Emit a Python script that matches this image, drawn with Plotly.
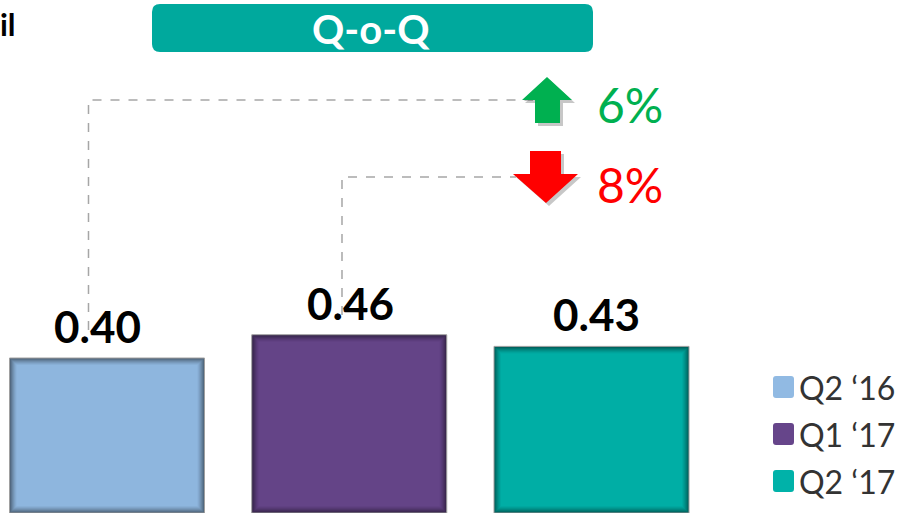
import plotly.graph_objects as go

# ---- data ----
categories = ["Q2 \u201816", "Q1 \u201817", "Q2 \u201817"]
values = [0.40, 0.46, 0.43]
value_labels = ["0.40", "0.46", "0.43"]
bar_colors = ["#91BAE3", "#66458A", "#00B2A9"]
change_labels = ["6%", "8%"]
change_colors = ["#00B050", "#FF0000"]
header_text = "Q-o-Q"
corner_text = "il"

# ---- geometry of the canvas ----
W, H = 905, 515
MB = 2
PLOT_H = H - MB
Y_MAX = 1.324
X_LO = -0.4417
X_HI = X_LO + W / 242.25
BAR_W = 0.805
PX_X = (X_HI - X_LO) / W
PX_Y = Y_MAX / PLOT_H
LABEL_NUDGE = [-10, 1, 5]   # horizontal pixel nudges of the value labels


def mix(hex_color, amount, target=(0, 0, 0)):
    h = hex_color.lstrip("#")
    r, g, b = int(h[0:2], 16), int(h[2:4], 16), int(h[4:6], 16)
    r = round(r + (target[0] - r) * amount)
    g = round(g + (target[1] - g) * amount)
    b = round(b + (target[2] - b) * amount)
    return f"rgb({r},{g},{b})"


def px(x, y):
    """pixel position -> paper coordinates string"""
    return f"{x / W:.5f},{1 - y / PLOT_H:.5f}"


def rounded_rect(x0, y0, x1, y1, r):
    return (
        f"M {px(x0 + r, y0)} L {px(x1 - r, y0)} Q {px(x1, y0)} {px(x1, y0 + r)} "
        f"L {px(x1, y1 - r)} Q {px(x1, y1)} {px(x1 - r, y1)} "
        f"L {px(x0 + r, y1)} Q {px(x0, y1)} {px(x0, y1 - r)} "
        f"L {px(x0, y0 + r)} Q {px(x0, y0)} {px(x0 + r, y0)} Z"
    )


def polygon(points):
    return "M " + " L ".join(px(x, y) for x, y in points) + " Z"


fig = go.Figure()

# bars drawn as nested layers to give a soft inner shadow at the edges
n_layers = 8
step = 1.0
for k in range(n_layers):
    inset = k * step
    amt = 0.48 * (1 - k / n_layers) ** 1.5
    fig.add_trace(go.Bar(
        x=categories,
        y=[v - 2 * inset * PX_Y for v in values],
        base=[inset * PX_Y] * len(values),
        width=[BAR_W - 2 * inset * PX_X] * len(values),
        marker=dict(
            color=[mix(c, amt) for c in bar_colors],
            line=dict(color="#A0A0A0" if k == 0 else "rgba(0,0,0,0)", width=1 if k == 0 else 0),
        ),
        hoverinfo="skip",
        showlegend=False,
    ))

shapes = []
annotations = []

# value labels above each bar
for cat, v, lab, dx in zip(categories, values, value_labels, LABEL_NUDGE):
    annotations.append(dict(
        x=cat, y=v, xref="x", yref="y", text=lab, showarrow=False,
        yanchor="bottom", yshift=4, xshift=dx,
        font=dict(family="Lato", size=44, color="#000000", weight="bold"),
    ))

# header banner
shapes.append(dict(type="path", xref="paper", yref="paper",
                   path=rounded_rect(152, 4, 593, 52, 8),
                   fillcolor="#00A99D", line=dict(width=0)))
annotations.append(dict(
    x=371 / W, y=1 - 29 / PLOT_H, xref="paper", yref="paper", text=header_text,
    showarrow=False, xanchor="center", yanchor="middle",
    font=dict(family="Lato", size=40, color="#FFFFFF", weight="bold"),
))

# partial heading at the top-left corner
annotations.append(dict(
    x=-2 / W, y=1 - 24 / PLOT_H, xref="paper", yref="paper", text=corner_text,
    showarrow=False, xanchor="left", yanchor="middle",
    font=dict(family="Lato", size=31, color="#000000", weight="bold"),
))

# dashed connectors from the bars to the change arrows
shapes.append(dict(type="path", xref="paper", yref="paper",
                   path=f"M {px(88.5, 330)} L {px(88.5, 100)} L {px(533, 100)}",
                   line=dict(color="#A6A6A6", width=1.5, dash="dash")))
shapes.append(dict(type="path", xref="paper", yref="paper",
                   path=f"M {px(342, 315)} L {px(342, 177)} L {px(516, 177)}",
                   line=dict(color="#A6A6A6", width=1.5, dash="dash")))

# up arrow (green) with drop shadow
up = [(547, 77), (572, 100), (560, 100), (560, 123), (535, 123), (535, 100), (522, 100)]
shapes.append(dict(type="path", xref="paper", yref="paper",
                   path=polygon([(x + 3, y + 3) for x, y in up]),
                   fillcolor="rgba(0,0,0,0.22)", line=dict(width=0)))
shapes.append(dict(type="path", xref="paper", yref="paper",
                   path=polygon(up), fillcolor=change_colors[0], line=dict(width=0)))

# down arrow (red) with drop shadow
down = [(530, 151), (561, 151), (561, 174), (578, 174), (546, 203), (513, 174), (530, 174)]
shapes.append(dict(type="path", xref="paper", yref="paper",
                   path=polygon([(x + 3, y + 3) for x, y in down]),
                   fillcolor="rgba(0,0,0,0.22)", line=dict(width=0)))
shapes.append(dict(type="path", xref="paper", yref="paper",
                   path=polygon(down), fillcolor=change_colors[1], line=dict(width=0)))

for text, color, cy in zip(change_labels, change_colors, [104, 184]):
    annotations.append(dict(
        x=595 / W, y=1 - cy / PLOT_H, xref="paper", yref="paper", text=text,
        showarrow=False, xanchor="left", yanchor="middle",
        font=dict(family="Lato", size=48, color=color),
    ))

# legend
for i, (cat, color) in enumerate(zip(categories, bar_colors)):
    cy = 387 + i * 47
    shapes.append(dict(type="path", xref="paper", yref="paper",
                       path=rounded_rect(773, cy - 11, 794, cy + 11, 3),
                       fillcolor=color, line=dict(width=0)))
    annotations.append(dict(
        x=797 / W, y=1 - cy / PLOT_H, xref="paper", yref="paper", text=cat,
        showarrow=False, xanchor="left", yanchor="middle",
        font=dict(family="Lato", size=32, color="#333333"),
    ))

fig.update_layout(
    width=W, height=H,
    margin=dict(l=0, r=0, t=0, b=MB),
    paper_bgcolor="#FFFFFF", plot_bgcolor="#FFFFFF",
    barmode="overlay",
    showlegend=False,
    xaxis=dict(visible=False, range=[X_LO, X_HI]),
    yaxis=dict(visible=False, range=[0, Y_MAX]),
    shapes=shapes,
    annotations=annotations,
)

fig.write_html("out.html")
